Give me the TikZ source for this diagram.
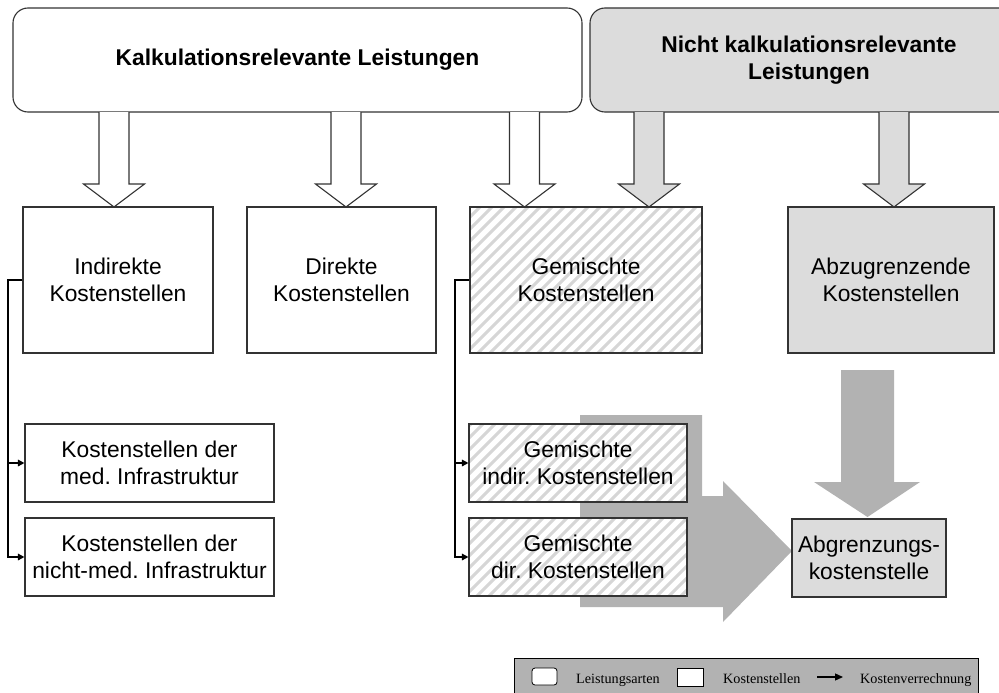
\documentclass[tikz,border=0pt]{standalone}
\usepackage{fontspec}
\setmainfont{Liberation Sans}
\newfontfamily\legfont{Liberation Serif}
\usetikzlibrary{arrows.meta,calc}
\frenchspacing
\definecolor{lgray}{HTML}{DCDCDC}
\definecolor{mgray}{HTML}{B2B2B2}
\definecolor{hgray}{HTML}{D6D6D6}
\definecolor{bord}{HTML}{333333}
\newcommand\blockdown[4]{%
  \fill[#1] (#2-15,#3) -- (#2+15,#3) -- (#2+15,#4-23) -- (#2+30.5,#4-23) -- (#2,#4) -- (#2-30.5,#4-23) -- (#2-15,#4-23) -- cycle;
  \draw[arrline] (#2+15,#3) -- (#2+15,#4-23) -- (#2+30.5,#4-23) -- (#2,#4) -- (#2-30.5,#4-23) -- (#2-15,#4-23) -- (#2-15,#3);}
\begin{document}
\begin{tikzpicture}[x=1pt,y=-1pt,
  box/.style={draw=bord, line width=1.1pt, inner sep=0pt, align=center,
    font=\fontsize{22.8}{27.5}\selectfont},
  hatched/.style={fill=white, path picture={
     \foreach \k in {0,...,45}
       \draw[hgray, line width=3pt] ([xshift=\k*12pt-220pt]path picture bounding box.south west) -- ++(300,-300);}},
  arrline/.style={draw=bord, line width=1.1pt, line join=miter},
  conn/.style={draw=black, line width=1.5pt, -{Triangle[length=6.5pt,width=6.5pt]}},
  legtext/.style={inner sep=2pt, anchor=base west, font=\legfont\fontsize{14.2}{16}\selectfont},
]
\useasboundingbox (0,0) rectangle (999,693);

% top boxes
\node[box, rounded corners=15pt, minimum width=569pt, minimum height=104pt] (kal) at (297.5,60)
  {\bfseries Kalkulationsrelevante Leistungen};
\node[box, fill=lgray, rounded corners=15pt, minimum width=438pt, minimum height=104pt] (nk) at (809,60)
  {\bfseries Nicht kalkulationsrelevante\\\bfseries Leistungen};

% block arrows
\blockdown{white}{114}{112}{207}
\blockdown{white}{346}{112}{207}
\blockdown{white}{524.5}{112}{207}
\blockdown{lgray}{649}{112}{207}
\blockdown{lgray}{894}{112}{207}

% big gray arrows
\fill[mgray] (580,415) -- (702,415) -- (702,496) -- (723,496) -- (723,481) -- (792,551)
  -- (723,622) -- (723,607) -- (580,607) -- cycle;
\fill[mgray] (841,370) -- (894,370) -- (894,482) -- (920,482) -- (867.5,517) -- (814,482) -- (841,482) -- cycle;

% first row
\node[box, fill=white, minimum width=190pt, minimum height=146pt] (ind) at (118,280) {Indirekte\\Kostenstellen};
\node[box, fill=white, minimum width=189pt, minimum height=146pt] (dir) at (341.5,280) {Direkte\\Kostenstellen};
\node[box, hatched, minimum width=232pt, minimum height=146pt] (gem) at (586,280) {Gemischte\\Kostenstellen};
\node[box, fill=lgray, minimum width=206pt, minimum height=146pt] (abz) at (891,280) {Abzugrenzende\\Kostenstellen};

% second row
\node[box, fill=white, minimum width=249pt, minimum height=78pt] (med) at (149.5,463) {Kostenstellen der\\med. Infrastruktur};
\node[box, fill=white, minimum width=249pt, minimum height=78pt] (nmed) at (149.5,557) {Kostenstellen der\\nicht-med. Infrastruktur};
\node[box, hatched, minimum width=218pt, minimum height=78pt] (g1) at (578,463) {Gemischte\\indir. Kostenstellen};
\node[box, hatched, minimum width=218pt, minimum height=78pt] (g2) at (578,557) {Gemischte\\dir. Kostenstellen};
\node[box, fill=lgray, minimum width=154pt, minimum height=78pt] (abg) at (869,558) {Abgrenzungs-\\kostenstelle};

% connectors
\coordinate (jl) at (8,280);
\draw[conn] (ind.west) -- (jl) |- (nmed.west);
\draw[conn] (jl |- med.west) -- (med.west);
\coordinate (jr) at (455,280);
\draw[conn] (gem.west) -- (jr) |- (g2.west);
\draw[conn] (jr |- g1.west) -- (g1.west);

% legend
\node[draw=black, line width=0.8pt, fill=mgray, minimum width=464pt, minimum height=42pt, inner sep=0pt, anchor=north west] (leg) at (514,658) {};
\node[draw=black, line width=0.8pt, fill=white, rounded corners=3pt, minimum width=25pt, minimum height=17pt, inner sep=0pt] (l1) at (544.5,676.5) {};
\node[legtext] (t1) at (574,683) {Leistungsarten};
\node[draw=black, line width=0.8pt, fill=white, minimum width=26pt, minimum height=18pt, inner sep=0pt] (l2) at (690,677) {};
\node[legtext] (t2) at (721,683) {Kostenstellen};
\coordinate (a1) at (817,677);
\coordinate (a2) at (843,677);
\draw[line width=1.3pt, -{Triangle[length=8pt,width=7pt]}] (a1) -- (a2);
\node[legtext] (t3) at (858,683) {Kostenverrechnung};
\end{tikzpicture}
\end{document}
